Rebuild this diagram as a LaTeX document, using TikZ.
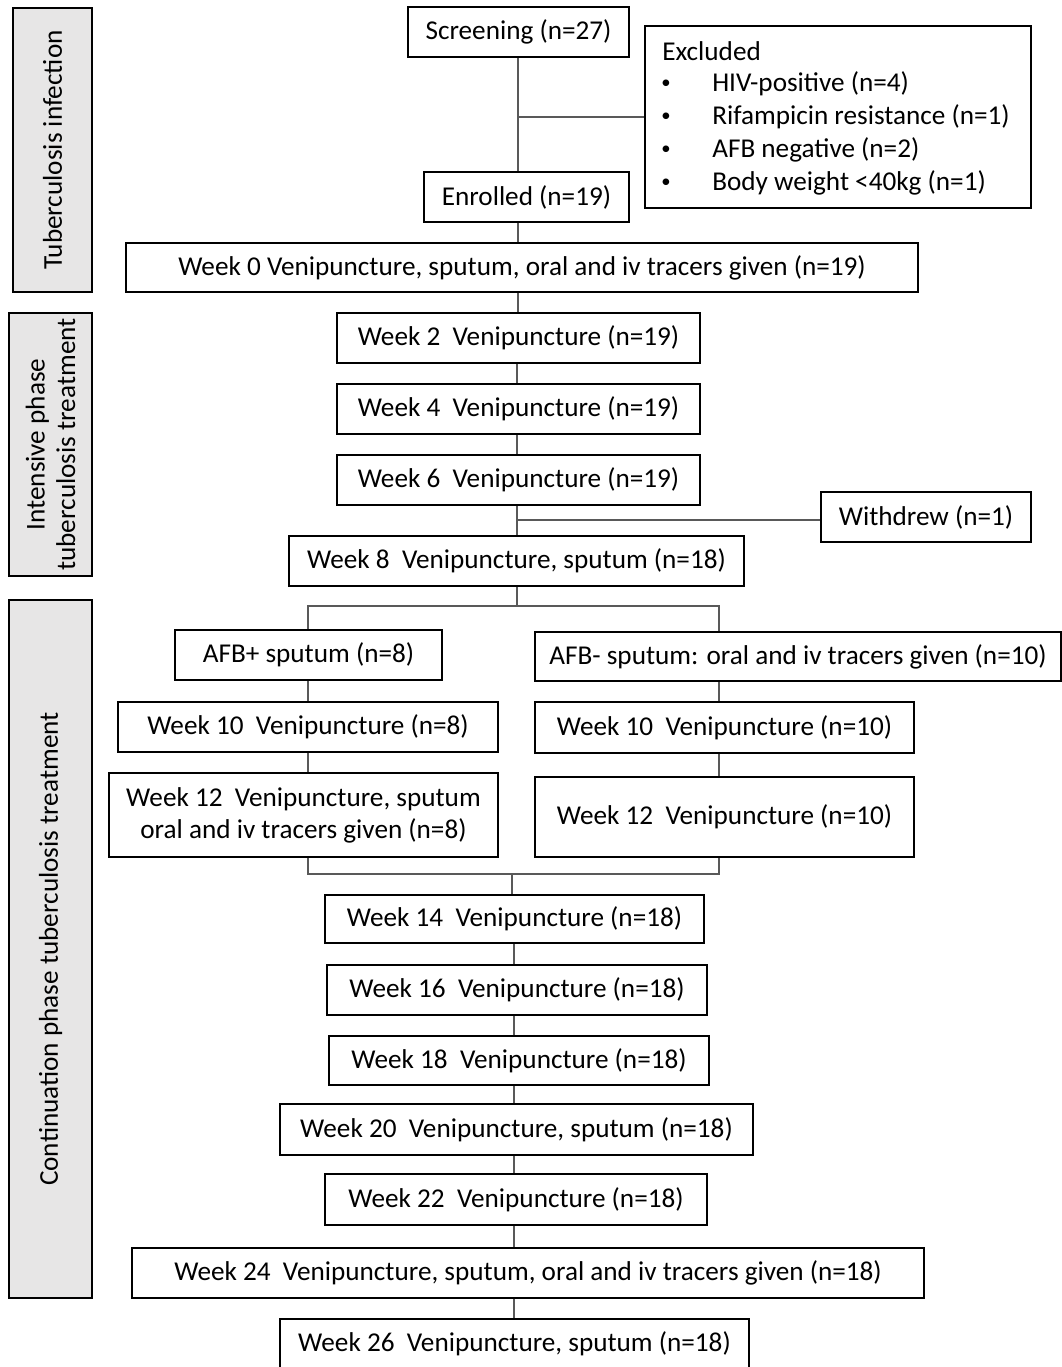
\documentclass[tikz,border=0pt]{standalone}
\usepackage{fontspec}
\setmainfont{Carlito}
\begin{document}
\begin{tikzpicture}[x=0.75pt,y=-0.75pt,
  bx/.style={draw=black, line width=1.3pt, fill=white, inner sep=0pt, font=\fontsize{20.4}{24}\selectfont, align=center},
  side/.style={draw=black, line width=1.3pt, fill=sidegray, inner sep=0pt},
  sidetext/.style={rotate=90, font=\fontsize{20.4}{23}\selectfont, align=center},
  conn/.style={draw=linegray, line width=0.8pt},
  txt/.style={inner sep=0pt, anchor=west, font=\fontsize{20.4}{24}\selectfont},
  bul/.style={inner sep=0pt, font=\fontsize{14}{16}\selectfont}]
\definecolor{sidegray}{HTML}{E7E6E6}
\definecolor{linegray}{HTML}{595959}
\useasboundingbox (0,0) rectangle (1062,1367);
% side boxes
\node[side, minimum width=79*0.75pt, minimum height=284*0.75pt] (s1) at (52.5,150) {};
\node[sidetext] (s1t) at (s1.center) {Tuberculosis infection};
\node[side, minimum width=83*0.75pt, minimum height=263*0.75pt] (s2) at (50.5,444.5) {};
\node[sidetext] (s2t) at (s2.center) {Intensive phase\\tuberculosis treatment};
\node[side, minimum width=83*0.75pt, minimum height=698*0.75pt] (s3) at (50.5,949) {};
\node[sidetext] (s3t) at (s3.center) {Continuation phase tuberculosis treatment};
% connector coordinates
\coordinate (scrb) at (518,57);
\coordinate (brx) at (518,117);
\coordinate (enrb) at (518,222);
\coordinate (w0b) at (518,292);
\coordinate (wdx) at (517,520);
\coordinate (sp) at (517,606);
\coordinate (spl) at (308,606);
\coordinate (spr) at (719,606);
\coordinate (mgl) at (308,874);
\coordinate (mgr) at (719,874);
\coordinate (mg) at (512,874);
\coordinate (mgd) at (514,895);
% main boxes
\node[bx, minimum width=221*0.75pt, minimum height=50*0.75pt] (scr) at (518.5,32) {Screening (n=27)};
\node[bx, minimum width=386*0.75pt, minimum height=182*0.75pt] (exc) at (838,117) {};
\node[txt] (exct) at (662,51) {Excluded};
\node[bul] (exb1) at (666,84) {•};
\node[bul] (exb2) at (666,117) {•};
\node[bul] (exb3) at (666,150) {•};
\node[bul] (exb4) at (666,183) {•};
\node[txt] (exi1) at (712,84) {HIV-positive (n=4)};
\node[txt] (exi2) at (712,117) {Rifampicin resistance (n=1)};
\node[txt] (exi3) at (712,150) {AFB negative (n=2)};
\node[txt] (exi4) at (712,183) {Body weight <40kg (n=1)};
\node[bx, minimum width=205*0.75pt, minimum height=50*0.75pt] (enr) at (526.5,197) {Enrolled (n=19)};
\node[bx, minimum width=792*0.75pt, minimum height=49*0.75pt] (w0) at (522,267.5) {Week 0 Venipuncture, sputum, oral and iv tracers given (n=19)};
\node[bx, minimum width=363*0.75pt, minimum height=50*0.75pt] (w2) at (518.5,338) {Week 2\ \ Venipuncture (n=19)};
\node[bx, minimum width=363*0.75pt, minimum height=50*0.75pt] (w4) at (518.5,409) {Week 4\ \ Venipuncture (n=19)};
\node[bx, minimum width=363*0.75pt, minimum height=50*0.75pt] (w6) at (518.5,480) {Week 6\ \ Venipuncture (n=19)};
\node[bx, minimum width=210*0.75pt, minimum height=50*0.75pt] (wd) at (926,517) {Withdrew (n=1)};
\node[bx, minimum width=455*0.75pt, minimum height=50*0.75pt] (w8) at (516.5,561) {Week 8\ \ Venipuncture, sputum (n=18)};
\node[bx, minimum width=267*0.75pt, minimum height=50*0.75pt] (afbp) at (308.5,655) {AFB+ sputum (n=8)};
\node[bx, minimum width=526*0.75pt, minimum height=49*0.75pt] (afbn) at (798,656.5) {AFB- sputum: oral and iv tracers given (n=10)};
\node[bx, minimum width=380*0.75pt, minimum height=50*0.75pt] (w10l) at (308,727) {Week 10\ \ Venipuncture (n=8)};
\node[bx, minimum width=379*0.75pt, minimum height=51*0.75pt] (w10r) at (724.5,727.5) {Week 10\ \ Venipuncture (n=10)};
\node[bx, minimum width=389*0.75pt, minimum height=84*0.75pt] (w12l) at (303.5,815) {Week 12\ \ Venipuncture, sputum\\oral and iv tracers given (n=8)};
\node[bx, minimum width=379*0.75pt, minimum height=80*0.75pt] (w12r) at (724.5,817) {Week 12\ \ Venipuncture (n=10)};
\node[bx, minimum width=379*0.75pt, minimum height=48*0.75pt] (w14) at (514.5,919) {Week 14\ \ Venipuncture (n=18)};
\node[bx, minimum width=380*0.75pt, minimum height=50*0.75pt] (w16) at (517,990) {Week 16\ \ Venipuncture (n=18)};
\node[bx, minimum width=380*0.75pt, minimum height=49*0.75pt] (w18) at (519,1060.5) {Week 18\ \ Venipuncture (n=18)};
\node[bx, minimum width=473*0.75pt, minimum height=51*0.75pt] (w20) at (516.5,1129.5) {Week 20\ \ Venipuncture, sputum (n=18)};
\node[bx, minimum width=382*0.75pt, minimum height=51*0.75pt] (w22) at (516,1199.5) {Week 22\ \ Venipuncture (n=18)};
\node[bx, minimum width=792*0.75pt, minimum height=50*0.75pt] (w24) at (528,1273) {Week 24\ \ Venipuncture, sputum, oral and iv tracers given (n=18)};
\node[bx, minimum width=469*0.75pt, minimum height=50*0.75pt] (w26) at (514.5,1344) {Week 26\ \ Venipuncture, sputum (n=18)};
% connectors
\draw[conn] (scr.south -| scrb) -- (enr.north -| scrb);
\draw[conn] (brx) -- (exc.west);
\draw[conn] (enr.south -| enrb) -- (w0.north -| enrb);
\draw[conn] (w0.south -| w0b) -- (w2.north -| w0b);
\draw[conn] (w2.south -| wdx) -- (w4.north -| wdx);
\draw[conn] (w4.south -| wdx) -- (w6.north -| wdx);
\draw[conn] (w6.south -| wdx) -- (w8.north -| wdx);
\draw[conn] (wdx) -- (wd.west |- wdx);
\draw[conn] (w8.south -| sp) -- (sp);
\draw[conn] (afbp.north -| spl) -- (spl) -- (spr) -- (afbn.north -| spr);
\draw[conn] (afbp.south -| spl) -- (w10l.north -| spl);
\draw[conn] (w10l.south -| spl) -- (w12l.north -| spl);
\draw[conn] (afbn.south -| spr) -- (w10r.north -| spr);
\draw[conn] (w10r.south -| spr) -- (w12r.north -| spr);
\draw[conn] (w12l.south -| mgl) -- (mgl) -- (mgr) -- (w12r.south -| mgr);
\draw[conn] (mg) -- (w14.north -| mg);
\draw[conn] (w14.south -| mgd) -- (w16.north -| mgd);
\draw[conn] (w16.south -| mgd) -- (w18.north -| mgd);
\draw[conn] (w18.south -| mgd) -- (w20.north -| mgd);
\draw[conn] (w20.south -| mgd) -- (w22.north -| mgd);
\draw[conn] (w22.south -| mgd) -- (w24.north -| mgd);
\draw[conn] (w24.south -| mgd) -- (w26.north -| mgd);
\end{tikzpicture}
\end{document}
